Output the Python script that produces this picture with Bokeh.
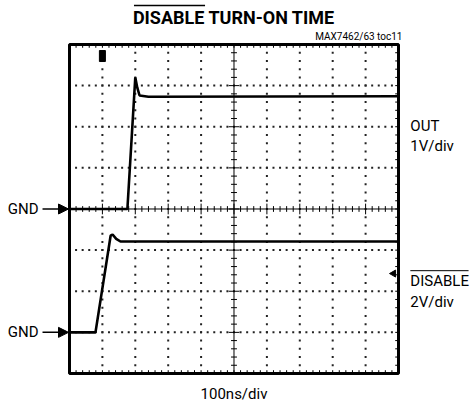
import numpy as np
from bokeh.plotting import figure
from bokeh.models import Range1d, Label, Arrow, NormalHead
from bokeh.embed import file_html
from bokeh.resources import INLINE

# ---- data ----
out_t_ns = [0, 176, 200, 206, 213, 240, 1000]          # time, ns (100 ns/div)
out_v = [0.0, 0.0, 3.2, 2.95, 2.76, 2.73, 2.74]        # OUT, V (1 V/div)
dis_t_ns = [0, 79, 125, 131, 142, 155, 1000]
dis_v = [0.0, 0.0, 4.7, 4.76, 4.55, 4.42, 4.42]        # DISABLE, V (2 V/div)

x_ticks = [100, 200, 300, 400, 600, 700, 800, 900]
y_ticks = [-3, -2, -1, 1, 2, 3]

title_text = "DISABLE TURN-ON TIME"
subtitle_text = "MAX7462/63 toc11"
out_label = ["OUT", "1V/div"]
dis_label = ["DISABLE", "2V/div"]
x_label = "100ns/div"

# the scope screen spans 0..1000 ns (10 div) and -4..4 div; the plot area is the whole canvas
p = figure(width=474, height=413, x_range=Range1d(-209.7, 1231.0), y_range=Range1d(-4.973, 5.070),
           output_backend="svg", toolbar_location=None,
           min_border=0, min_border_left=0, min_border_right=0, min_border_top=0, min_border_bottom=0)
# DISABLE channel: 2 V/div, ground 3 div below centre
p.extra_y_ranges = {"dis": Range1d(-3.946, 16.14)}
p.xaxis.visible = False
p.yaxis.visible = False
p.xgrid.visible = False
p.ygrid.visible = False
p.background_fill_color = "white"
p.border_fill_color = "white"
p.outline_line_color = None

# dotted graticule (dots every 0.2 div)
mx = np.arange(0, 1000.1, 20)
my = np.arange(-4, 4.01, 0.2)
gx = np.concatenate([np.repeat(x_ticks, len(my)), np.tile(mx, len(y_ticks))])
gy = np.concatenate([np.tile(my, len(x_ticks)), np.repeat(y_ticks, len(mx))])
p.rect(x=gx, y=gy, width=2, height=2, width_units="screen", height_units="screen",
       fill_color="#222222", line_color=None)

# center cross-hair
p.segment(x0=[0, 500], y0=[0, -4], x1=[1000, 500], y1=[0, 4], line_color="black", line_width=1)

# tick marks
big_x = (np.round(mx) % 100 == 0)
big_y = (np.abs(my - np.round(my)) < 1e-6)
hx = np.where(big_x, 0.13, 0.07)
vy = np.where(big_y, 16, 9)
x0 = np.concatenate([mx, 500 - vy, mx, mx, np.full_like(my, 1000)])
x1 = np.concatenate([mx, 500 + vy, mx, mx, np.full_like(my, 990)])
y0 = np.concatenate([-hx, my, np.full_like(mx, -4), np.full_like(mx, 4), my])
y1 = np.concatenate([hx, my, np.full_like(mx, -3.92), np.full_like(mx, 3.92), my])
p.segment(x0=x0, y0=y0, x1=x1, y1=y1, line_color="black", line_width=1)

# screen border
p.quad(left=[0], right=[1000], bottom=[-4], top=[4], fill_color=None,
       line_color="black", line_width=3)

# traces
p.line(out_t_ns, out_v, line_color="black", line_width=2.6)
p.line(dis_t_ns, dis_v, line_color="black", line_width=2.6, y_range_name="dis")

# scope markers
p.rect(x=[x_ticks[0]], y=[3.72], width=6, height=11, width_units="screen", height_units="screen",
       fill_color="black", line_color="black")
p.scatter(x=[985], y=[2.86], marker="triangle", size=7, angle=np.pi / 2,
          fill_color="black", line_color="black", y_range_name="dis")

FONT = "Roboto"
# title
p.add_layout(Label(x=500, y=4.66, text=title_text, text_align="center", text_baseline="middle",
                   text_font=FONT, text_font_style="bold", text_font_size="18px", text_color="black"))
p.add_layout(Arrow(end=None, x_start=196, y_start=4.95, x_end=412, y_end=4.95,
                   line_color="black", line_width=1.5))
p.add_layout(Label(x=1012, y=4.19, text=subtitle_text, text_align="right", text_baseline="middle",
                   text_font=FONT, text_font_size="10px", text_color="black"))

# right side channel labels
p.add_layout(Label(x=1036, y=2.03, text=out_label[0], text_align="left", text_baseline="middle",
                   text_font=FONT, text_font_size="15px", text_color="black"))
p.add_layout(Label(x=1036, y=1.54, text=out_label[1], text_align="left", text_baseline="middle",
                   text_font=FONT, text_font_size="15px", text_color="black"))
p.add_layout(Label(x=1036, y=-1.74, text=dis_label[0], text_align="left", text_baseline="middle",
                   text_font=FONT, text_font_size="15px", text_color="black"))
p.add_layout(Label(x=1036, y=-2.27, text=dis_label[1], text_align="left", text_baseline="middle",
                   text_font=FONT, text_font_size="15px", text_color="black"))
p.add_layout(Arrow(end=None, x_start=1036, y_start=-1.50, x_end=1213, y_end=-1.50,
                   line_color="black", line_width=1))

# ground markers
for rng in ["default", "dis"]:
    p.add_layout(Label(x=-94, y=0, text="GND", text_align="right", text_baseline="middle",
                       text_font=FONT, text_font_size="15px", text_color="black", y_range_name=rng))
    p.add_layout(Arrow(end=NormalHead(size=10, fill_color="black", line_color="black"),
                       x_start=-82, y_start=0, x_end=-3, y_end=0,
                       line_color="black", line_width=1.5, y_range_name=rng))

p.add_layout(Label(x=500, y=-4.49, text=x_label, text_align="center", text_baseline="middle",
                   text_font=FONT, text_font_size="15px", text_color="black"))

open("out.html", "w").write(file_html(p, INLINE))
